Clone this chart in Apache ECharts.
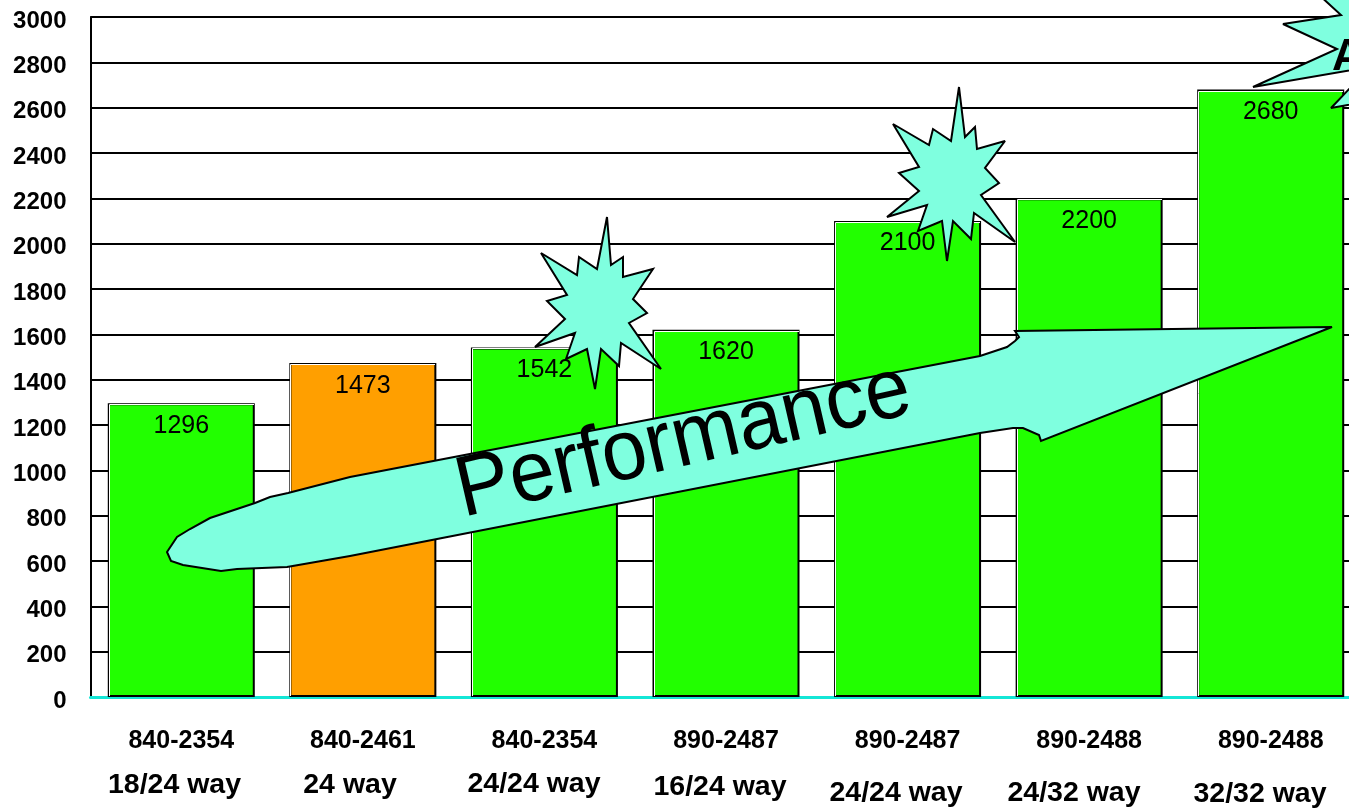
<!DOCTYPE html>
<html>
<head>
<meta charset="utf-8">
<style>html,body{margin:0;padding:0;background:#fff;overflow:hidden}#chart{width:1349px;height:808px}</style>
<script src="https://cdn.jsdelivr.net/npm/echarts@6/dist/echarts.min.js"></script>
</head>
<body>
<div id="chart"></div>
<script>
// Part numbers along the axis, and the way configuration written beneath each
const categories = ['840-2354', '840-2461', '840-2354', '890-2487', '890-2487', '890-2488', '890-2488'];
const wayLabels = ['18/24 way', '24 way', '24/24 way', '16/24 way', '24/24 way', '24/32 way', '32/32 way'];
const performance = [1296, 1473, 1542, 1620, 2100, 2200, 2680];
const highlighted = 1; // the single orange bar

// Hand-placed centres of the way labels
const wayX = [174.5, 350, 534, 720, 896, 1074, 1260];
const wayY = [785, 785, 784, 787, 793, 793, 794];

// Callout outlines
const starA = [[607,217],[597,269],[579,257],[577,275],[541,253],[567,295],[547,301],[565,319],[535,347],[575,333],[566,359],[587,349],[595,389],[601,349],[619,366],[621,343],[661,369],[629,323],[647,313],[633,299],[653,269],[623,277],[623,257],[611,265]];
const starB = [[959,87],[951,141],[933,129],[929,145],[893,124],[919,167],[899,173],[919,191],[887,217],[927,205],[918,231],[942,221],[947,261],[953,221],[971,239],[974,213],[1015,242],[981,195],[999,183],[985,168],[1005,141],[977,149],[975,127],[965,137]];
const starC = [[1318,-6],[1341,15],[1283,24],[1337,49],[1253,87],[1370,67],[1331,108],[1370,101],[1420,60],[1380,-20]];
const arrow = [[167,552],[177,537],[190,529],[210,518],[255,503],[270,497],[288,493],[350,477],[980,356],[1007,347],[1015,341],[1019,337],[1015,331],[1332,327],[1041,441],[1039,435],[1023,428],[1013,428],[980,433],[350,556],[287,567],[237,569],[221,571],[183,565],[171,561]];

const CALLOUT = '#7fffdf';
const GREEN = '#22ff00';
const ORANGE = '#ff9f00';
const SANS = '"Liberation Sans", Arial, sans-serif';
const BAR_WIDTH = 147;

function outline(points, z) {
  return {
    type: 'polygon', z: z, silent: true,
    shape: { points: points },
    style: { fill: CALLOUT, stroke: '#000', lineWidth: 2, lineJoin: 'miter', miterLimit: 3 }
  };
}

const chart = echarts.init(document.getElementById('chart'), null, { renderer: 'canvas' });
chart.setOption({
  animation: false,
  backgroundColor: '#fff',
  grid: { left: 90.5, top: 17, width: 1271, height: 680, containLabel: false, outerBoundsMode: 'none' },
  xAxis: {
    type: 'category',
    data: categories,
    offset: 2,
    axisLine: { lineStyle: { color: '#14e6d6', width: 3 } },
    axisTick: { show: false },
    axisLabel: { interval: 0, margin: 30, color: '#000', fontFamily: SANS, fontWeight: 'bold', fontSize: 25 }
  },
  yAxis: {
    type: 'value',
    min: 0,
    max: 3000,
    interval: 200,
    axisLine: { show: true, lineStyle: { color: '#000', width: 2 } },
    axisTick: { show: false },
    splitLine: { show: true, lineStyle: { color: '#000', width: 2 } },
    axisLabel: {
      margin: 24, color: '#000', fontFamily: SANS, fontWeight: 'bold', fontSize: 24,
      verticalAlign: 'top', padding: [-8, 0, 0, 0],
      formatter: (v) => String(v)
    }
  },
  series: [
    {
      type: 'bar',
      z: 2,
      barWidth: BAR_WIDTH,
      barGap: '-100%',
      data: performance.map((v, i) => ({
        value: v,
        itemStyle: { color: i === highlighted ? ORANGE : GREEN, borderColor: '#000', borderWidth: 2 }
      }))
    },
    {
      // Light bevel just inside the top and left edge of each bar
      type: 'custom',
      z: 3,
      silent: true,
      data: performance.map((v, i) => [i, v]),
      encode: { x: 0, y: 1 },
      renderItem(params, api) {
        const top = api.coord([api.value(0), api.value(1)]);
        const base = api.coord([api.value(0), 0]);
        const left = Math.round(top[0] - BAR_WIDTH / 2) + 1.5;
        const right = Math.round(top[0] + BAR_WIDTH / 2) - 1;
        const upper = Math.round(top[1]) + 1.5;
        return {
          type: 'polyline',
          shape: { points: [[left, base[1] - 1], [left, upper], [right, upper]] },
          style: { fill: 'none', stroke: '#fff', lineWidth: 1 }
        };
      }
    },
    {
      // Value labels sit above the callouts, so they ride on their own clear bars
      type: 'bar',
      z: 20,
      silent: true,
      barWidth: BAR_WIDTH,
      barGap: '-100%',
      itemStyle: { color: 'rgba(0,0,0,0)' },
      label: {
        show: true,
        position: 'insideTop',
        distance: 10,
        color: '#000',
        fontFamily: SANS,
        fontSize: 25
      },
      data: performance
    }
  ],
  graphic: {
    elements: [
      outline(arrow, 10),
      outline(starA, 10),
      outline(starB, 10),
      outline(starC, 10),
      {
        type: 'text', z: 30, silent: true, x: 1332, y: 80,
        style: { text: 'A', font: 'bold 44px ' + SANS, fill: '#000', textAlign: 'left', textVerticalAlign: 'bottom' }
      },
      {
        type: 'text', z: 30, silent: true, x: 448, y: 452,
        rotation: 13 * Math.PI / 180,
        scaleY: 1.06,
        style: { text: 'Performance', font: '81px ' + SANS, fill: '#000', textAlign: 'left', textVerticalAlign: 'top' }
      }
    ].concat(wayLabels.map((t, i) => ({
      type: 'text', z: 30, silent: true, x: wayX[i], y: wayY[i],
      style: { text: t, font: 'bold 28.5px ' + SANS, fill: '#000', textAlign: 'center', textVerticalAlign: 'middle' }
    })))
  }
});
</script>
</body>
</html>
